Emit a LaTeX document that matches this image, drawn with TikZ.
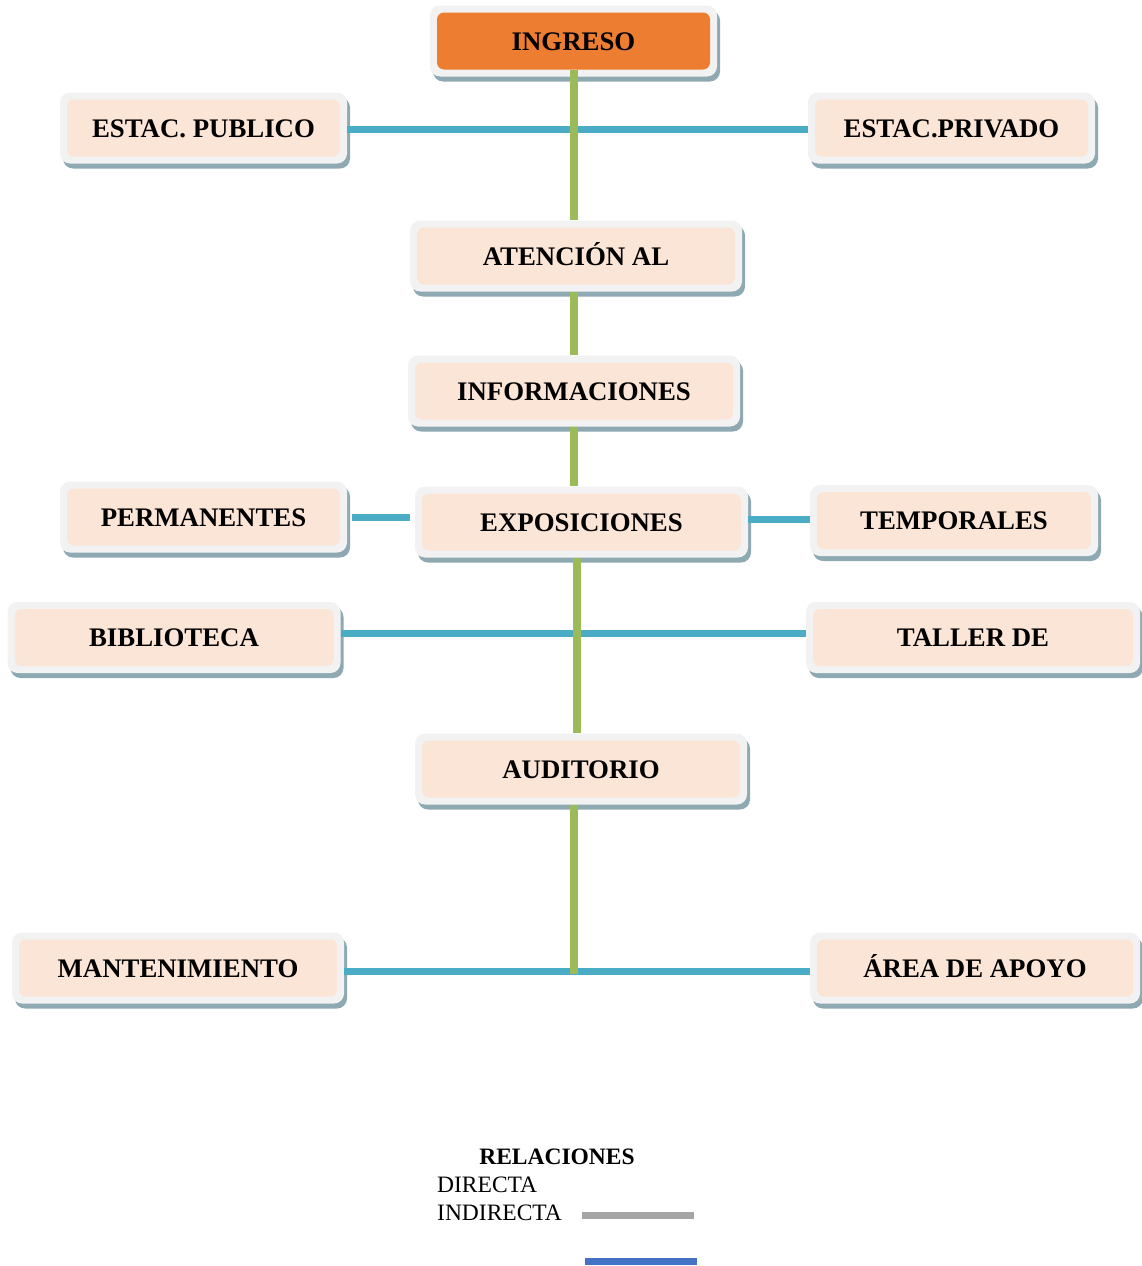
\documentclass[tikz,border=0pt]{standalone}
\usepackage{fontspec}
\setmainfont{Liberation Serif}
\usetikzlibrary{shadows}

\definecolor{naranja}{HTML}{ED7D31}
\definecolor{durazno}{HTML}{FBE5D6}
\definecolor{marco}{HTML}{F2F2F2}
\definecolor{sombra}{HTML}{8EA9B2}
\definecolor{verde}{HTML}{9BBB59}
\definecolor{celeste}{HTML}{4BACC6}
\definecolor{gris}{HTML}{A5A5A5}
\definecolor{azul}{HTML}{4472C4}

\tikzset{
  caja/.style={fill=marco, rounded corners=10pt, minimum width=#1, minimum height=71pt,
    inner sep=0pt, text height=18.5pt, text depth=0pt,
    font=\fontsize{26.8}{28}\selectfont\bfseries,
    drop shadow={shadow xshift=3pt, shadow yshift=-5pt, fill=sombra, opacity=1},
    path picture={\fill[durazno, rounded corners=7pt]
      ([shift={(7pt,-7pt)}]path picture bounding box.north west) rectangle
      ([shift={(-7pt,7pt)}]path picture bounding box.south east);}},
  caja/.default=287pt,
  rama/.style={line width=7pt, celeste},
  eje/.style={line width=8pt, verde},
  leyenda/.style={font=\fontsize{23.5}{25}\selectfont, inner sep=0pt, anchor=west}
}

\begin{document}
\begin{tikzpicture}[x=1pt, y=-1pt]
  \useasboundingbox (0,0) rectangle (1142,1266);
  % cajas
  \node[caja, path picture={\fill[naranja, rounded corners=7pt]
      ([shift={(7pt,-7pt)}]path picture bounding box.north west) rectangle
      ([shift={(-7pt,7pt)}]path picture bounding box.south east);}] (ingreso) at (573.5,41) {INGRESO};
  \node[caja] (publico) at (203.5,128) {ESTAC. PUBLICO};
  \node[caja] (privado) at (951.5,128) {ESTAC.PRIVADO};
  \node[caja=332pt] (atencion) at (576,256) {ATENCIÓN AL};
  \node[caja=332pt] (informaciones) at (574,391) {INFORMACIONES};
  \node[caja] (permanentes) at (203.5,517) {PERMANENTES};
  \node[caja=333pt] (exposiciones) at (581.5,522) {EXPOSICIONES};
  \node[caja=288pt] (temporales) at (954,520.5) {TEMPORALES};
  \node[caja=333pt] (biblioteca) at (174,637.5) {BIBLIOTECA};
  \node[caja=334pt] (taller) at (973,637.5) {TALLER DE};
  \node[caja=332pt] (auditorio) at (581,769) {AUDITORIO};
  \node[caja=332pt] (mantenimiento) at (178,968) {MANTENIMIENTO};
  \node[caja=330pt] (apoyo) at (975,968) {ÁREA DE APOYO};
  % relaciones
  \draw[rama] ([yshift=-1pt]publico.east) -- ([yshift=-1pt]privado.west);
  \draw[rama, shorten <=5pt, shorten >=5pt] (permanentes.east) -- (permanentes.east -| exposiciones.west);
  \draw[rama] ([yshift=3pt]exposiciones.east) -- ([yshift=3pt]exposiciones.east -| temporales.west);
  \draw[rama] ([yshift=4pt]biblioteca.east) -- ([yshift=4pt]taller.west);
  \draw[rama] ([yshift=-3pt]mantenimiento.east) -- ([yshift=-3pt]apoyo.west);
  \draw[eje] ([yshift=7pt]ingreso.south) -- (ingreso.south |- atencion.north);
  \draw[eje] (ingreso.south |- atencion.south) -- (ingreso.south |- informaciones.north);
  \draw[eje] (ingreso.south |- informaciones.south) -- (ingreso.south |- exposiciones.north);
  \draw[eje] ([xshift=-4.5pt]exposiciones.south) -- ([xshift=-4.5pt]exposiciones.south |- auditorio.north);
  \coordinate (fin) at (ingreso.south |- mantenimiento.east);
  \draw[eje] (ingreso.south |- auditorio.south) -- ([yshift=-6pt]fin);
  % leyenda
  \node[font=\fontsize{23.5}{25}\selectfont\bfseries, inner sep=0pt] (relaciones) at (557,1157) {RELACIONES};
  \node[leyenda] (directa) at (437,1185) {DIRECTA};
  \node[leyenda] (indirecta) at (437,1213) {INDIRECTA};
  \draw[line width=7pt, gris] (582,1215) -- (694,1215);
  \draw[line width=7pt, azul] (585,1261) -- (697,1261);
\end{tikzpicture}
\end{document}
